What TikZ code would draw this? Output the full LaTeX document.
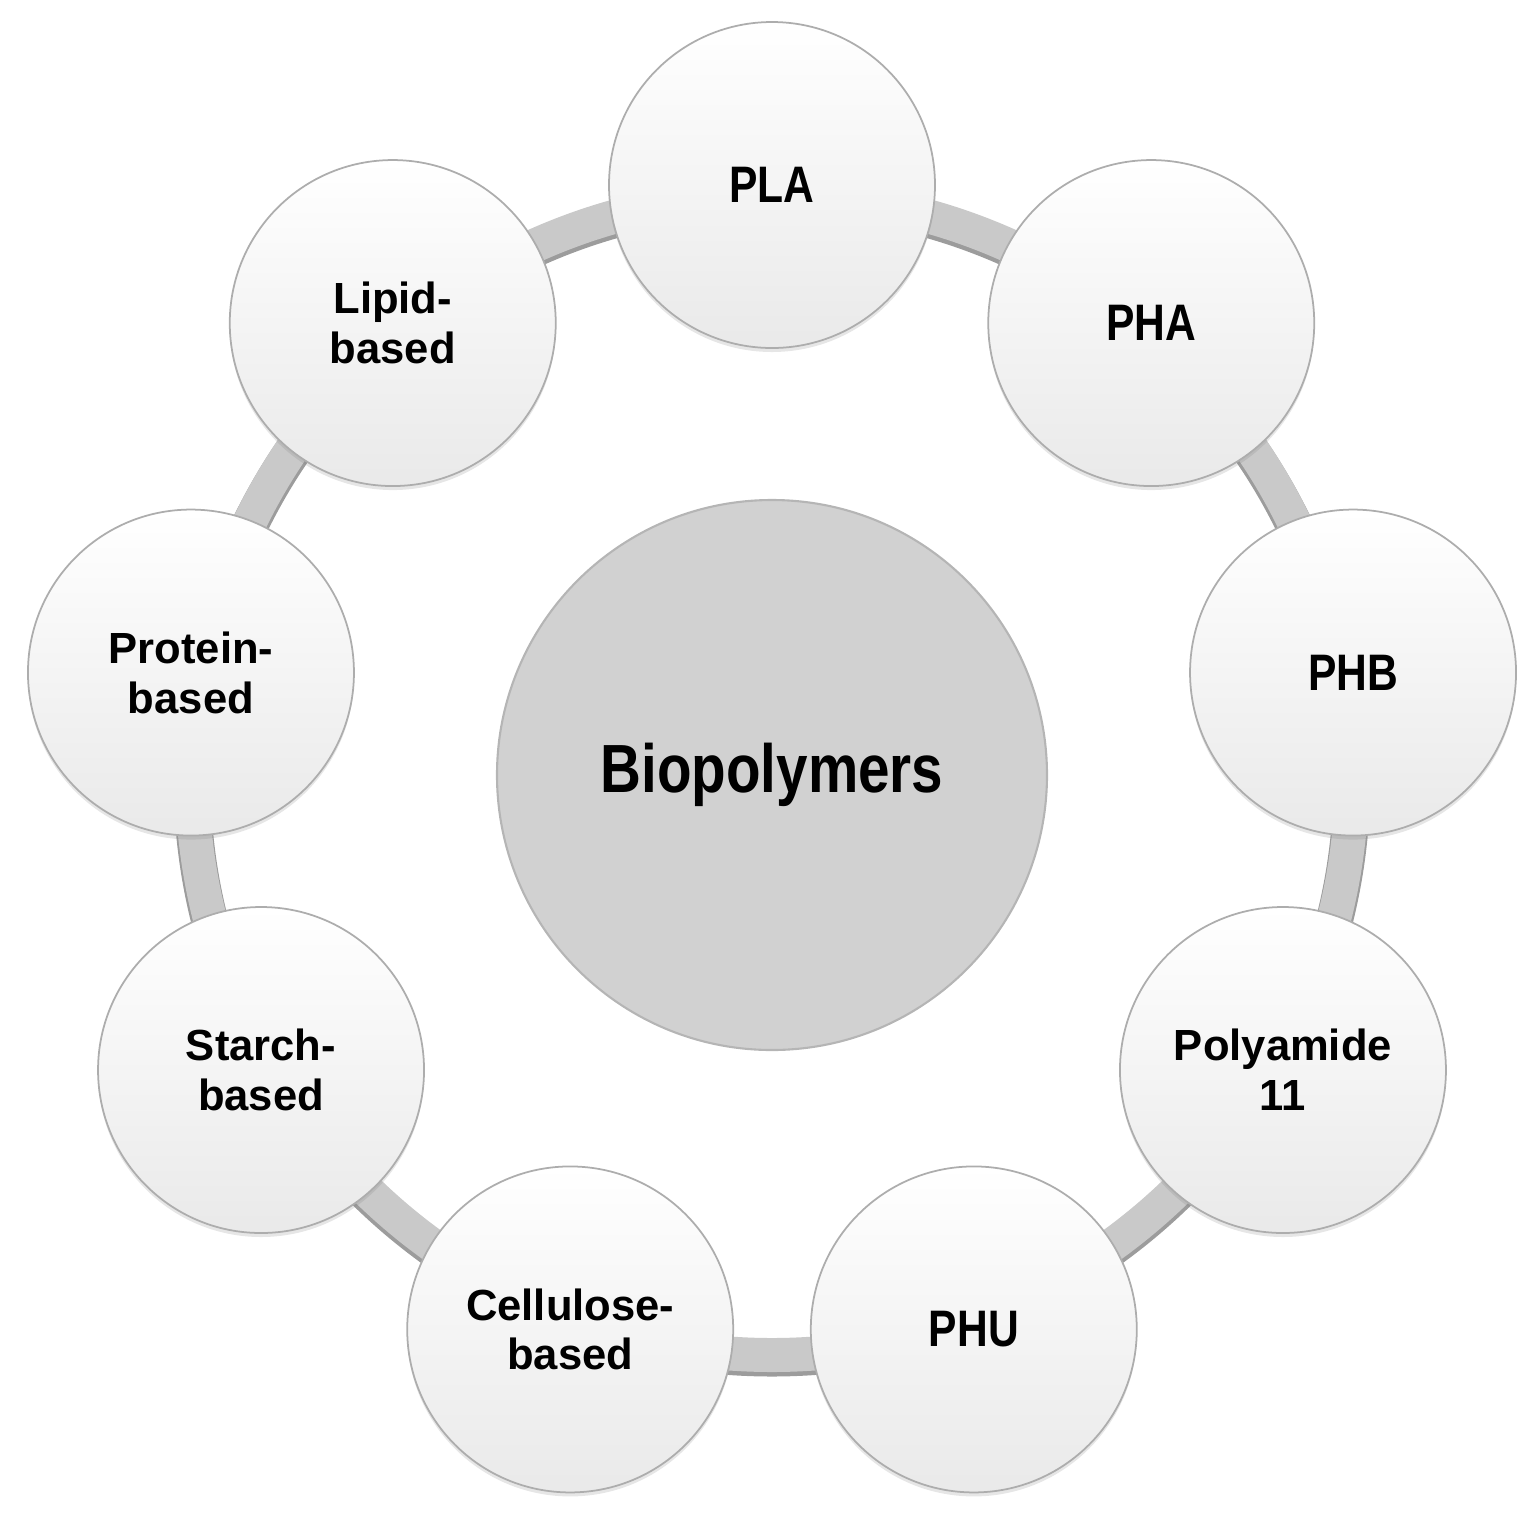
\documentclass[tikz,border=0pt]{standalone}
\usepackage{fontspec}
\newfontfamily\labfont{Liberation Sans}
\newfontfamily\narfont[FakeStretch=0.83]{Liberation Sans}
\usetikzlibrary{shadows}
\definecolor{ringfill}{HTML}{C9C9C9}
\definecolor{ringedge}{HTML}{9C9C9C}
\definecolor{bubbleedge}{HTML}{ADADAD}
\definecolor{corefill}{HTML}{D1D1D1}
\definecolor{coreedge}{HTML}{B5B5B5}
\begin{document}
\begin{tikzpicture}[
  bubble/.style={circle, minimum size=3.26cm, inner sep=0pt, draw=bubbleedge, line width=0.5pt,
    top color=white, middle color=white, bottom color=gray!17,
    drop shadow={opacity=0.2, shadow xshift=0pt, shadow yshift=-0.04cm},
    align=center, text=black},
  oneword/.style={bubble, font=\narfont\bfseries\fontsize{14.6}{16}\selectfont},
  twoword/.style={bubble, font=\labfont\bfseries\fontsize{12.4}{14.2}\selectfont},
  core/.style={circle, minimum size=5.5cm, inner sep=0pt, fill=corefill, draw=coreedge,
    line width=0.6pt, font=\narfont\bfseries\fontsize{19.4}{22}\selectfont}
]
\begin{scope}[shift={(7.72,-7.75)}]
\useasboundingbox (-7.72,7.75) rectangle (7.66,-7.51);
\coordinate (c) at (0,0);
% ring
\draw[ringedge, line width=0.37cm] ([yshift=-0.03cm]c) circle (5.80);
\draw[ringfill, line width=0.34cm] (c) circle (5.80);
% centre
\node[core] (core) at (c) {Biopolymers};
% outer bubbles
\node[oneword] (pla) at (90:5.9) {PLA};
\node[oneword] (pha) at (50:5.9) {PHA};
\node[oneword] (phb) at (10:5.9) {PHB};
\node[twoword] (pa11) at (-30:5.9) {Polyamide\\11};
\node[oneword] (phu) at (-70:5.9) {PHU};
\node[twoword] (cell) at (-110:5.9) {Cellulose-\\based};
\node[twoword] (starch) at (-150:5.9) {Starch-\\based};
\node[twoword] (protein) at (170:5.9) {Protein-\\based};
\node[twoword] (lipid) at (130:5.9) {Lipid-\\based};
\end{scope}
\end{tikzpicture}
\end{document}
